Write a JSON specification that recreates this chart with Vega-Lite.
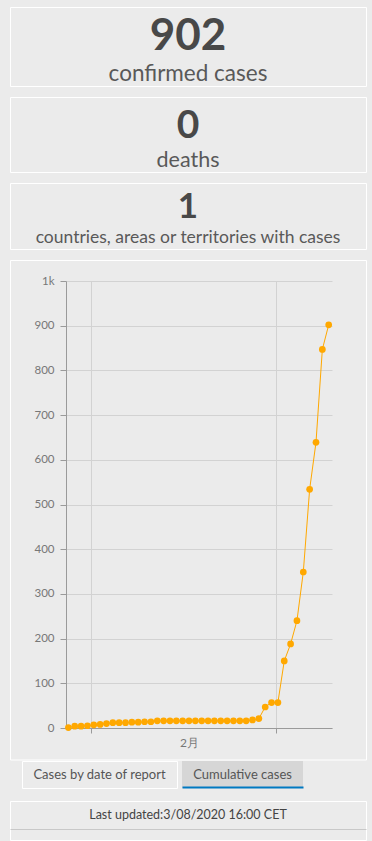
{
  "$schema": "https://vega.github.io/schema/vega-lite/v6.json",
  "background": "#ebebeb",
  "padding": {"left": 9, "top": 6, "right": 5, "bottom": 0},
  "datasets": {
    "cases": [
      {"date": "2020-01-28", "cases": 1},
      {"date": "2020-01-29", "cases": 4},
      {"date": "2020-01-30", "cases": 4},
      {"date": "2020-01-31", "cases": 5},
      {"date": "2020-02-01", "cases": 7},
      {"date": "2020-02-02", "cases": 8},
      {"date": "2020-02-03", "cases": 10},
      {"date": "2020-02-04", "cases": 12},
      {"date": "2020-02-05", "cases": 12},
      {"date": "2020-02-06", "cases": 12},
      {"date": "2020-02-07", "cases": 13},
      {"date": "2020-02-08", "cases": 13},
      {"date": "2020-02-09", "cases": 14},
      {"date": "2020-02-10", "cases": 14},
      {"date": "2020-02-11", "cases": 16},
      {"date": "2020-02-12", "cases": 16},
      {"date": "2020-02-13", "cases": 16},
      {"date": "2020-02-14", "cases": 16},
      {"date": "2020-02-15", "cases": 16},
      {"date": "2020-02-16", "cases": 16},
      {"date": "2020-02-17", "cases": 16},
      {"date": "2020-02-18", "cases": 16},
      {"date": "2020-02-19", "cases": 16},
      {"date": "2020-02-20", "cases": 16},
      {"date": "2020-02-21", "cases": 16},
      {"date": "2020-02-22", "cases": 16},
      {"date": "2020-02-23", "cases": 16},
      {"date": "2020-02-24", "cases": 16},
      {"date": "2020-02-25", "cases": 16},
      {"date": "2020-02-26", "cases": 18},
      {"date": "2020-02-27", "cases": 21},
      {"date": "2020-02-28", "cases": 47},
      {"date": "2020-02-29", "cases": 57},
      {"date": "2020-03-01", "cases": 57},
      {"date": "2020-03-02", "cases": 150},
      {"date": "2020-03-03", "cases": 188},
      {"date": "2020-03-04", "cases": 240},
      {"date": "2020-03-05", "cases": 349},
      {"date": "2020-03-06", "cases": 534},
      {"date": "2020-03-07", "cases": 639},
      {"date": "2020-03-08", "cases": 847},
      {"date": "2020-03-09", "cases": 902}
    ]
  },
  "config": {
    "font": "Lato",
    "view": {"stroke": "#ffffff", "strokeWidth": 1}
  },
  "spacing": 9,
  "vconcat": [
    {
      "width": 356,
      "height": 79,
      "data": {"values": [{"count": "902", "label": "confirmed cases"}]},
      "encoding": {"x": {"field": "label", "type": "nominal", "axis": null}},
      "layer": [
        {"mark": {"type": "text", "fontSize": 44, "fontWeight": "bold", "color": "#484848", "baseline": "alphabetic", "dy": 3},
         "encoding": {"text": {"field": "count", "type": "nominal"}}},
        {"mark": {"type": "text", "fontSize": 22.5, "color": "#595959", "baseline": "alphabetic", "dy": 34},
         "encoding": {"text": {"field": "label", "type": "nominal"}}}
      ]
    },
    {
      "width": 356,
      "height": 75,
      "data": {"values": [{"count": "0", "label": "deaths"}]},
      "encoding": {"x": {"field": "label", "type": "nominal", "axis": null}},
      "layer": [
        {"mark": {"type": "text", "fontSize": 39, "fontWeight": "bold", "color": "#484848", "baseline": "alphabetic", "dy": 3.5},
         "encoding": {"text": {"field": "count", "type": "nominal"}}},
        {"mark": {"type": "text", "fontSize": 21.5, "color": "#595959", "baseline": "alphabetic", "dy": 32},
         "encoding": {"text": {"field": "label", "type": "nominal"}}}
      ]
    },
    {
      "width": 356,
      "height": 66,
      "data": {"values": [{"count": "1", "label": "countries, areas or territories with cases"}]},
      "encoding": {"x": {"field": "label", "type": "nominal", "axis": null}},
      "layer": [
        {"mark": {"type": "text", "fontSize": 35, "fontWeight": "bold", "color": "#484848", "baseline": "alphabetic", "dy": 2},
         "encoding": {"text": {"field": "count", "type": "nominal"}}},
        {"mark": {"type": "text", "fontSize": 17.5, "color": "#595959", "baseline": "alphabetic", "dy": 27},
         "encoding": {"text": {"field": "label", "type": "nominal"}}}
      ]
    },
    {
      "spacing": 0,
      "vconcat": [
        {
          "width": 356,
          "height": 499.5,
          "data": {"name": "cases"},
          "encoding": {
            "y": {
              "field": "cases",
              "type": "quantitative",
              "scale": {"domain": [0, 1000], "range": [468, 21], "nice": false},
              "axis": {
                "title": null,
                "offset": -56,
                "values": [0, 100, 200, 300, 400, 500, 600, 700, 800, 900, 1000],
                "labelExpr": "datum.value >= 1000 ? '1k' : datum.label",
                "grid": true,
                "gridColor": "#d2d2d2",
                "tickSize": 6,
                "tickColor": "#9a9a9a",
                "domainColor": "#9a9a9a",
                "labelColor": "#777777",
                "labelFontSize": 11.5,
                "labelPadding": 6
              }
            }
          },
          "layer": [
            {
              "mark": {"type": "line", "color": "#ffa800", "strokeWidth": 1},
              "encoding": {
                "x": {
                  "field": "date",
                  "type": "temporal",
                  "scale": {
                    "type": "utc",
                    "nice": false,
                    "domain": [
                      {"year": 2020, "month": 1, "date": 27, "hours": 15, "utc": true},
                      {"year": 2020, "month": 3, "date": 9, "hours": 12, "minutes": 30, "utc": true}
                    ],
                    "range": [56, 322]
                  },
                  "axis": {
                    "title": null,
                    "orient": "top",
                    "offset": 0,
                    "values": [
                      {"year": 2020, "month": 1, "date": 31, "hours": 15, "utc": true},
                      {"year": 2020, "month": 2, "date": 29, "hours": 15, "utc": true}
                    ],
                    "grid": true,
                    "gridColor": "#d2d2d2",
                    "domain": false,
                    "ticks": false,
                    "labels": false
                  }
                }
              }
            },
            {
              "mark": {"type": "point", "filled": true, "size": 45, "color": "#ffa800", "opacity": 1},
              "encoding": {
                "x": {
                  "field": "date",
                  "type": "temporal",
                  "scale": {
                    "type": "utc",
                    "nice": false,
                    "domain": [
                      {"year": 2020, "month": 1, "date": 27, "hours": 15, "utc": true},
                      {"year": 2020, "month": 3, "date": 9, "hours": 12, "minutes": 30, "utc": true}
                    ],
                    "range": [56, 322]
                  },
                  "axis": {
                    "title": null,
                    "orient": "bottom",
                    "offset": -31.5,
                    "values": [
                      {"year": 2020, "month": 1, "date": 31, "hours": 15, "utc": true},
                      {"year": 2020, "month": 2, "date": 16, "hours": 0, "utc": true},
                      {"year": 2020, "month": 2, "date": 29, "hours": 15, "utc": true}
                    ],
                    "labelExpr": "utchours(datum.value) == 15 ? '' : '2月'",
                    "grid": false,
                    "tickOpacity": {"condition": {"test": "utchours(datum.value) == 15", "value": 1}, "value": 0},
                    "tickSize": 5,
                    "tickColor": "#9a9a9a",
                    "domainColor": "#9a9a9a",
                    "labelColor": "#777777",
                    "labelFontSize": 12,
                    "labelPadding": 4,
                    "labelOverlap": false,
                    "labelFlush": false
                  }
                }
              }
            }
          ],
          "resolve": {"axis": {"x": "independent"}}
        },
        {
          "spacing": 11,
          "vconcat": [
            {
              "spacing": 4,
              "hconcat": [
                {
                  "width": 7,
                  "height": 27,
                  "view": {"stroke": null},
                  "mark": {"type": "text"},
                  "encoding": {"text": {"value": ""}}
                },
                {
                  "width": 155,
                  "height": 27,
                  "data": {"values": [{"tab": "Cases by date of report"}]},
                  "mark": {"type": "text", "fontSize": 13, "color": "#555555"},
                  "encoding": {
                    "text": {"field": "tab", "type": "nominal"},
                    "x": {"field": "tab", "type": "nominal", "axis": null}
                  }
                },
                {
                  "width": 121,
                  "height": 27,
                  "view": {"stroke": null, "fill": "#d6d6d6"},
                  "data": {"values": [{"tab": "Cumulative cases"}]},
                  "mark": {"type": "text", "fontSize": 13, "color": "#555555"},
                  "encoding": {
                    "text": {"field": "tab", "type": "nominal"},
                    "x": {"field": "tab", "type": "nominal", "axis": {"title": null, "labels": false, "ticks": false, "offset": -1, "domainColor": "#0079c1", "domainWidth": 2}}
                  }
                }
              ]
            },
            {
              "width": 356,
              "height": 39,
              "data": {"values": [{"note": "Last updated:3/08/2020 16:00 CET"}]},
              "mark": {"type": "text", "fontSize": 12.5, "color": "#444444", "dy": -5.5},
              "encoding": {
                "text": {"field": "note", "type": "nominal"},
                "x": {"field": "note", "type": "nominal", "axis": {"orient": "top", "offset": -28, "title": null, "labels": false, "ticks": false, "domainColor": "#c8c8c8", "domainWidth": 1}}
              }
            }
          ]
        }
      ]
    }
  ]
}
